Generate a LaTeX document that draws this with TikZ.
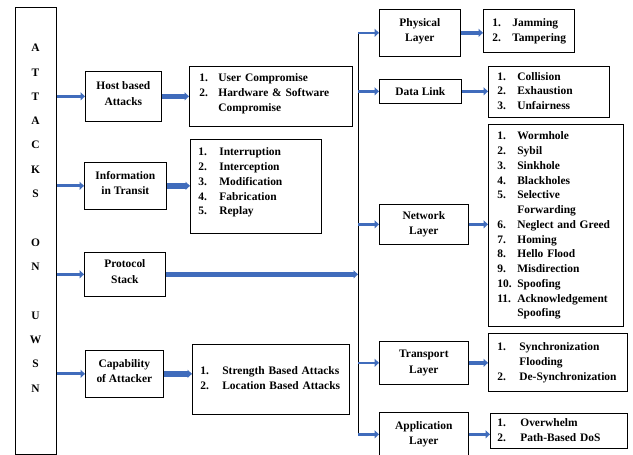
\documentclass[tikz,border=0pt]{standalone}
\usepackage{fontspec}
\setmainfont{Liberation Serif}
\usetikzlibrary{arrows.meta}
\definecolor{arrowblue}{RGB}{64,108,188}

\begin{document}
\begin{tikzpicture}[x=1bp,y=-1bp,
  txt/.style={font=\bfseries\fontsize{11.5}{15.5}\selectfont},
  ltxt/.style={font=\bfseries\fontsize{11.5}{14.8}\selectfont},
  box/.style={txt, draw, line width=0.7bp, fill=white, inner sep=0pt,
    align=center, anchor=north west},
  highbox/.style={box, text depth=6bp},
  listbox/.style={ltxt, draw, line width=0.7bp, fill=white, inner sep=0pt,
    align=left, anchor=north west},
  arr/.style={draw=arrowblue, line width=#1, -{Triangle[length=4.5bp,width=8bp]}},
  arr/.default=3bp,
  trunkline/.style={draw=black, line width=1bp}]
\useasboundingbox (0,0) rectangle (633,455);

% left column: the title box
\node[box, minimum width=41bp, minimum height=447bp] (attacks) at (15,7) {};
\node[txt, font=\bfseries\fontsize{11.5}{24.4}\selectfont, align=center,
  inner sep=0pt, anchor=north] (attackstitle) at (35.5,44)
  {A\\T\\T\\A\\C\\K\\S\\[24.4bp]O\\N\\[24.4bp]U\\W\\S\\N};

% attack categories
\node[highbox, minimum width=76bp, minimum height=50bp] (host) at (85,71) {Host based\\Attacks};
\node[highbox, minimum width=82bp, minimum height=47bp] (info) at (84,162) {Information\\in Transit};
\node[highbox, minimum width=81bp, minimum height=44bp] (proto) at (84,252) {Protocol\\Stack};
\node[highbox, minimum width=78bp, minimum height=47bp] (cap) at (85,350) {Capability\\of Attacker};

% lists for the categories
\node[listbox, text width=163bp, minimum height=60bp] (hostlist) at (189,66)
  {\begin{tabular}{@{\hspace{10bp}}p{19bp}@{}l@{}}
   1.&User Compromise\\2.&Hardware \& Software\\&Compromise\\[6bp]\end{tabular}};
\node[listbox, text width=131bp, minimum height=94bp] (infolist) at (190,139)
  {\begin{tabular}{@{\hspace{8bp}}p{21bp}@{}l@{}}
   1.&Interruption\\2.&Interception\\3.&Modification\\4.&Fabrication\\5.&Replay\\[8bp]\end{tabular}};
\node[listbox, text width=157bp, minimum height=70bp] (caplist) at (192,344)
  {\begin{tabular}{@{\hspace{8bp}}p{22bp}@{}l@{}}
   1.&Strength Based Attacks\\2.&Location Based Attacks\end{tabular}};

% protocol layers
\node[box, text depth=5.5bp, minimum width=81bp, minimum height=47bp] (phys) at (379,9) {Physical\\Layer};
\node[box, minimum width=82bp, minimum height=24bp] (dl) at (379,79) {Data Link};
\node[box, minimum width=89bp, minimum height=40bp] (net) at (379,204) {Network\\Layer};
\node[box, minimum width=89bp, minimum height=43bp] (trans) at (379,341) {Transport\\Layer};
\node[box, minimum width=89bp, minimum height=44bp] (app) at (379,412) {Application\\Layer};

% lists for the layers
\node[listbox, text width=91bp, minimum height=43bp] (physlist) at (483,9)
  {\begin{tabular}{@{\hspace{9bp}}p{20bp}@{}l@{}}
   1.&Jamming\\2.&Tampering\end{tabular}};
\node[listbox, text width=121bp, minimum height=51bp] (dllist) at (488,66)
  {\begin{tabular}{@{\hspace{9bp}}p{20bp}@{}l@{}}
   1.&Collision\\2.&Exhaustion\\3.&Unfairness\end{tabular}};
\node[listbox, text width=135bp, minimum height=202bp] (netlist) at (488,124)
  {\begin{tabular}{@{\hspace{9bp}}p{20bp}@{}l@{}}
   1.&Wormhole\\2.&Sybil\\3.&Sinkhole\\4.&Blackholes\\5.&Selective\\&Forwarding\\
   6.&Neglect and Greed\\7.&Homing\\8.&Hello Flood\\9.&Misdirection\\
   10.&Spoofing\\11.&Acknowledgement\\&Spoofing\end{tabular}};
\node[listbox, text width=139bp, minimum height=58bp] (translist) at (488,333)
  {\begin{tabular}{@{\hspace{9bp}}p{22bp}@{}l@{}}
   1.&Synchronization\\&Flooding\\2.&De-Synchronization\end{tabular}};
\node[listbox, text width=137bp, minimum height=35bp] (applist) at (490,413)
  {\begin{tabular}{@{\hspace{7bp}}p{23bp}@{}l@{}}
   1.&Overwhelm\\2.&Path-Based DoS\end{tabular}};

% trunk feeding the protocol layers
\coordinate (trunktop) at (358,32);
\coordinate (trunkbot) at (358,434);
\draw[trunkline] (trunktop) -- (trunkbot);

% connectors from the title box
\foreach \n in {host,info,proto,cap}
  \draw[arr=3bp] (attacks.east |- \n.west) -- (\n.west);

% connectors to the category lists
\draw[arr=5.5bp] (host.east) -- (host.east -| hostlist.west);
\draw[arr=5.5bp] (info.east) -- (info.east -| infolist.west);
\draw[arr=5.5bp] (cap.east) -- (cap.east -| caplist.west);
\draw[arr=5bp] (proto.east) -- (proto.east -| trunktop);

% connectors from the trunk to the layers and on to their lists
\draw[arr=2.5bp] (trunktop |- phys.west) -- (phys.west);
\draw[arr=2.5bp] (trunktop |- dl.west) -- (dl.west);
\draw[arr=2.5bp] (trunktop |- net.west) -- (net.west);
\draw[arr=2.5bp] (trunktop |- trans.west) -- (trans.west);
\draw[arr=2.5bp] (trunktop |- app.west) -- (app.west);
\draw[arr=3.5bp] (phys.east) -- (phys.east -| physlist.west);
\draw[arr=3.5bp] (dl.east) -- (dl.east -| dllist.west);
\draw[arr=3.5bp] (net.east) -- (net.east -| netlist.west);
\draw[arr=3.5bp] (trans.east) -- (trans.east -| translist.west);
\draw[arr=3.5bp] (app.east) -- (app.east -| applist.west);
\end{tikzpicture}
\end{document}
